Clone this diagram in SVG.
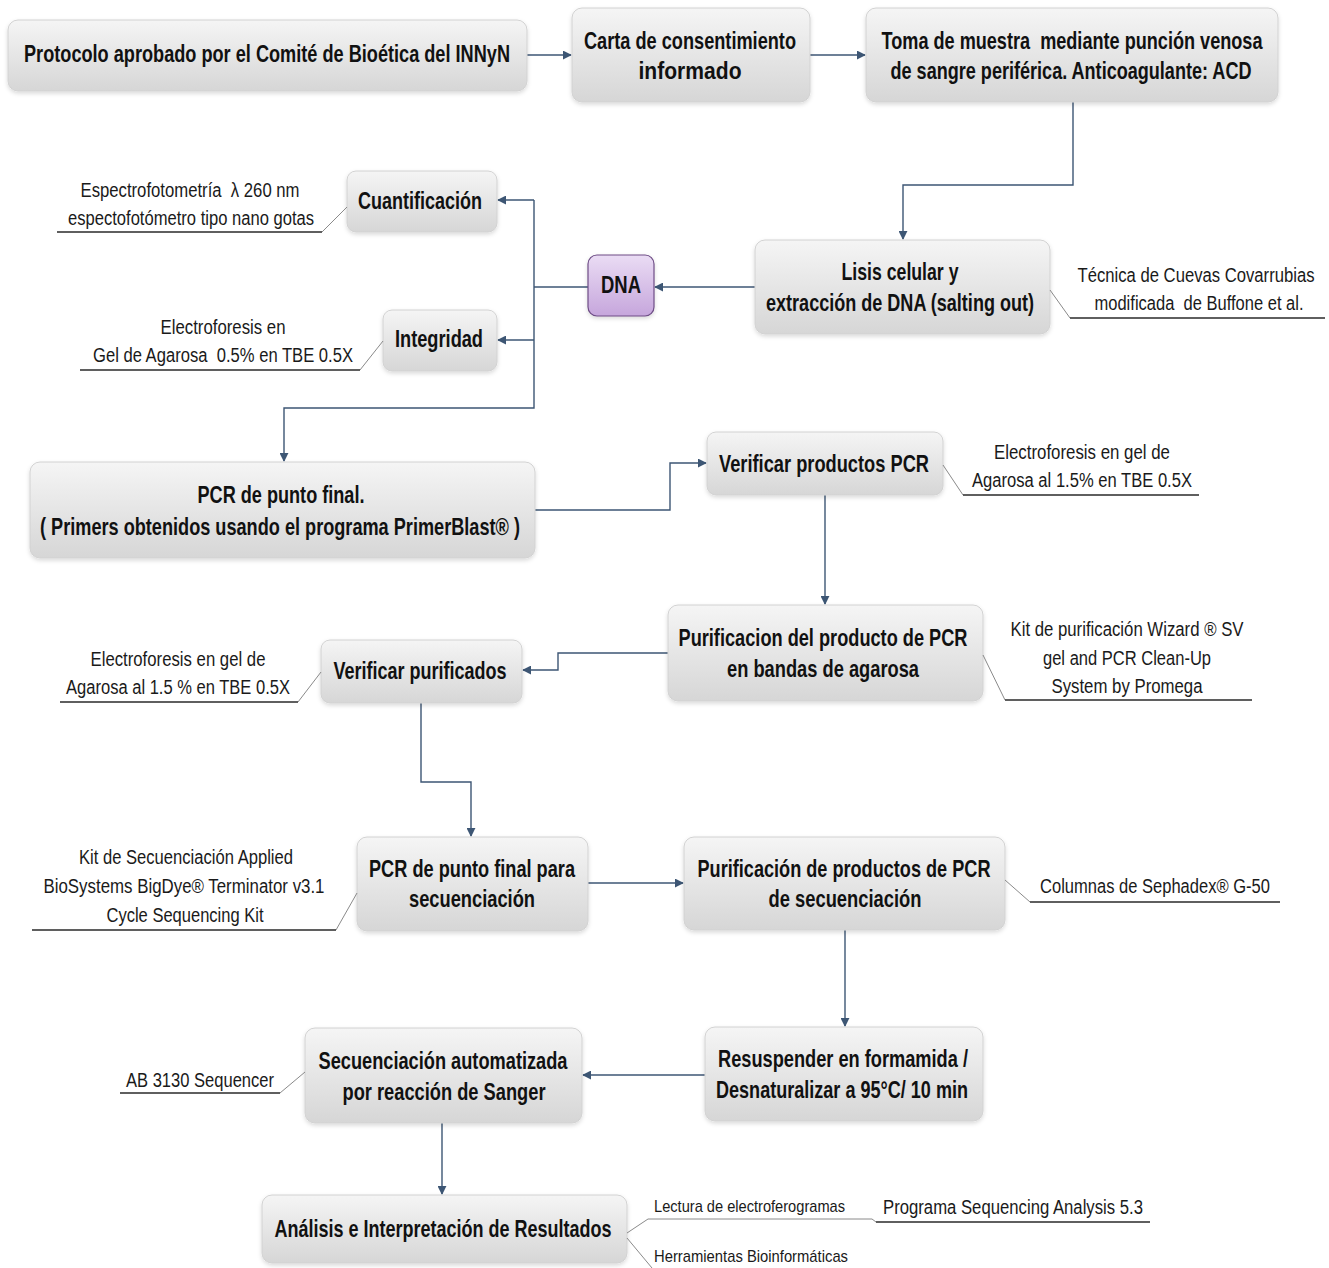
<svg xmlns="http://www.w3.org/2000/svg" width="1329" height="1268" viewBox="0 0 1329 1268">
<style>
.box{fill:url(#g);stroke:#d2d2d2;stroke-width:1;filter:url(#sh)}
.dna{fill:url(#gp);stroke:#6e4d86;stroke-width:1.2;filter:url(#sh)}
.t{font-family:"Liberation Sans",Arial,sans-serif;font-weight:bold;font-size:24px;fill:#111;text-anchor:middle}
.a{font-family:"Liberation Sans",Arial,sans-serif;font-size:20px;fill:#1a1a1a;text-anchor:middle}
.s{font-family:"Liberation Sans",Arial,sans-serif;font-size:17px;fill:#1a1a1a}
.c{fill:none;stroke:#3d5674;stroke-width:1.4}
.u{fill:none;stroke:#2a2a2a;stroke-width:1.3}
.d{fill:none;stroke:#8a8a8a;stroke-width:1}
</style>
<defs>
<linearGradient id="g" x1="0" y1="0" x2="0" y2="1"><stop offset="0" stop-color="#f5f5f5"/><stop offset="1" stop-color="#d6d6d6"/></linearGradient>
<linearGradient id="gp" x1="0" y1="0" x2="0" y2="1"><stop offset="0" stop-color="#eadcf4"/><stop offset="1" stop-color="#c6a6dc"/></linearGradient>
<filter id="sh" x="-10%" y="-10%" width="120%" height="130%"><feDropShadow dx="0" dy="2" stdDeviation="2" flood-color="#000" flood-opacity="0.15"/></filter>
<marker id="ar" viewBox="0 0 10 10" refX="9" refY="5" markerWidth="9" markerHeight="9" markerUnits="userSpaceOnUse" orient="auto"><path d="M0,0 L10,5 L0,10 Z" fill="#3d5674"/></marker>
</defs>
<rect width="1329" height="1268" fill="#fff"/>
<g id="connectors">
<path class="c" d="M527,55 H571" marker-end="url(#ar)"/>
<path class="c" d="M810,55 H865" marker-end="url(#ar)"/>
<path class="c" d="M1073,102 V185 H903 V239" marker-end="url(#ar)"/>
<path class="c" d="M755,287 H655" marker-end="url(#ar)"/>
<path class="c" d="M588,287 H534"/>
<path class="c" d="M534,200 V408 H284 V461" marker-end="url(#ar)"/>
<path class="c" d="M534,200 H498" marker-end="url(#ar)"/>
<path class="c" d="M534,340 H498" marker-end="url(#ar)"/>
<path class="c" d="M535,510 H670 V463 H706" marker-end="url(#ar)"/>
<path class="c" d="M825,495 V604" marker-end="url(#ar)"/>
<path class="c" d="M668,653 H558 V670 H523" marker-end="url(#ar)"/>
<path class="c" d="M421,703 V782 H471 V836" marker-end="url(#ar)"/>
<path class="c" d="M588,883 H683" marker-end="url(#ar)"/>
<path class="c" d="M845,930 V1026" marker-end="url(#ar)"/>
<path class="c" d="M705,1075 H583" marker-end="url(#ar)"/>
<path class="c" d="M442,1123 V1194" marker-end="url(#ar)"/>
</g>
<g id="n-protocolo"><rect class="box" x="8" y="20" width="519" height="71" rx="10"/><text class="t" x="267" y="62" textLength="486" lengthAdjust="spacingAndGlyphs">Protocolo aprobado por el Comité de Bioética del INNyN</text></g>
<g id="n-carta"><rect class="box" x="572" y="8" width="238" height="94" rx="10"/><text class="t" x="690" y="49" textLength="212" lengthAdjust="spacingAndGlyphs">Carta de consentimiento</text><text class="t" x="690" y="79" textLength="103" lengthAdjust="spacingAndGlyphs">informado</text></g>
<g id="n-toma"><rect class="box" x="866" y="8" width="412" height="94" rx="10"/><text class="t" x="1072" y="49" textLength="381" lengthAdjust="spacingAndGlyphs" xml:space="preserve">Toma de muestra  mediante punción venosa</text><text class="t" x="1071" y="79" textLength="361" lengthAdjust="spacingAndGlyphs">de sangre periférica. Anticoagulante: ACD</text></g>
<g id="n-cuant"><rect class="box" x="347" y="171" width="150" height="61" rx="9"/><text class="t" x="420" y="209" textLength="124" lengthAdjust="spacingAndGlyphs">Cuantificación</text></g>
<g id="n-dna"><rect class="dna" x="588" y="255" width="66" height="61" rx="9"/><text class="t" x="621" y="293" textLength="40" lengthAdjust="spacingAndGlyphs">DNA</text></g>
<g id="n-lisis"><rect class="box" x="755" y="240" width="295" height="94" rx="10"/><text class="t" x="900" y="280" textLength="117" lengthAdjust="spacingAndGlyphs">Lisis celular y</text><text class="t" x="900" y="311" textLength="268" lengthAdjust="spacingAndGlyphs">extracción de DNA (salting out)</text></g>
<g id="n-integ"><rect class="box" x="383" y="310" width="114" height="61" rx="9"/><text class="t" x="439" y="347" textLength="88" lengthAdjust="spacingAndGlyphs">Integridad</text></g>
<g id="n-pcr"><rect class="box" x="30" y="462" width="505" height="96" rx="10"/><text class="t" x="281" y="503" textLength="167" lengthAdjust="spacingAndGlyphs">PCR de punto final.</text><text class="t" x="280" y="535" textLength="480" lengthAdjust="spacingAndGlyphs">( Primers obtenidos usando el programa PrimerBlast® )</text></g>
<g id="n-verpcr"><rect class="box" x="707" y="432" width="236" height="63" rx="9"/><text class="t" x="824" y="472" textLength="210" lengthAdjust="spacingAndGlyphs">Verificar productos PCR</text></g>
<g id="n-purif"><rect class="box" x="668" y="605" width="315" height="96" rx="10"/><text class="t" x="823" y="646" textLength="289" lengthAdjust="spacingAndGlyphs">Purificacion del producto de PCR</text><text class="t" x="823" y="677" textLength="192" lengthAdjust="spacingAndGlyphs">en bandas de agarosa</text></g>
<g id="n-verpur"><rect class="box" x="321" y="640" width="201" height="63" rx="9"/><text class="t" x="420" y="679" textLength="173" lengthAdjust="spacingAndGlyphs">Verificar purificados</text></g>
<g id="n-pcrseq"><rect class="box" x="357" y="837" width="231" height="94" rx="10"/><text class="t" x="472" y="877" textLength="206" lengthAdjust="spacingAndGlyphs">PCR de punto final para</text><text class="t" x="472" y="907" textLength="126" lengthAdjust="spacingAndGlyphs">secuenciación</text></g>
<g id="n-purseq"><rect class="box" x="684" y="837" width="321" height="93" rx="10"/><text class="t" x="844" y="877" textLength="293" lengthAdjust="spacingAndGlyphs">Purificación de productos de PCR</text><text class="t" x="845" y="907" textLength="153" lengthAdjust="spacingAndGlyphs">de secuenciación</text></g>
<g id="n-resus"><rect class="box" x="705" y="1027" width="278" height="94" rx="10"/><text class="t" x="843" y="1067" textLength="250" lengthAdjust="spacingAndGlyphs">Resuspender en formamida /</text><text class="t" x="842" y="1098" textLength="252" lengthAdjust="spacingAndGlyphs">Desnaturalizar a 95°C/ 10 min</text></g>
<g id="n-secuen"><rect class="box" x="305" y="1028" width="277" height="95" rx="10"/><text class="t" x="443" y="1069" textLength="249" lengthAdjust="spacingAndGlyphs">Secuenciación automatizada</text><text class="t" x="444" y="1100" textLength="203" lengthAdjust="spacingAndGlyphs">por reacción de Sanger</text></g>
<g id="n-analisis"><rect class="box" x="262" y="1195" width="365" height="68" rx="10"/><text class="t" x="443" y="1237" textLength="337" lengthAdjust="spacingAndGlyphs">Análisis e Interpretación de Resultados</text></g>
<g id="annotations">
<path class="d" d="M322,232 L347,207"/><path class="u" d="M57,232 H322"/>
<text class="a" x="190" y="197" textLength="219" lengthAdjust="spacingAndGlyphs" xml:space="preserve">Espectrofotometría  λ 260 nm</text>
<text class="a" x="191" y="225" textLength="246" lengthAdjust="spacingAndGlyphs">espectofotómetro tipo nano gotas</text>
<path class="d" d="M360,370 L383,341"/><path class="u" d="M80,370 H360"/>
<text class="a" x="223" y="334" textLength="125" lengthAdjust="spacingAndGlyphs">Electroforesis en</text>
<text class="a" x="223" y="362" textLength="260" lengthAdjust="spacingAndGlyphs" xml:space="preserve">Gel de Agarosa  0.5% en TBE 0.5X</text>
<path class="d" d="M1050,290 L1070,318"/><path class="u" d="M1070,318 H1325"/>
<text class="a" x="1196" y="282" textLength="237" lengthAdjust="spacingAndGlyphs">Técnica de Cuevas Covarrubias</text>
<text class="a" x="1199" y="310" textLength="209" lengthAdjust="spacingAndGlyphs" xml:space="preserve">modificada  de Buffone et al.</text>
<path class="d" d="M943,465 L963,495"/><path class="u" d="M963,495 H1199"/>
<text class="a" x="1082" y="459" textLength="176" lengthAdjust="spacingAndGlyphs">Electroforesis en gel de</text>
<text class="a" x="1082" y="487" textLength="220" lengthAdjust="spacingAndGlyphs">Agarosa al 1.5% en TBE 0.5X</text>
<path class="d" d="M983,655 L1005,700"/><path class="u" d="M1005,700 H1252"/>
<text class="a" x="1127" y="636" textLength="233" lengthAdjust="spacingAndGlyphs">Kit de purificación Wizard ® SV</text>
<text class="a" x="1127" y="665" textLength="168" lengthAdjust="spacingAndGlyphs">gel and PCR Clean-Up</text>
<text class="a" x="1127" y="693" textLength="151" lengthAdjust="spacingAndGlyphs">System by Promega</text>
<path class="d" d="M298,702 L321,672"/><path class="u" d="M60,702 H298"/>
<text class="a" x="178" y="666" textLength="175" lengthAdjust="spacingAndGlyphs">Electroforesis en gel de</text>
<text class="a" x="178" y="694" textLength="224" lengthAdjust="spacingAndGlyphs">Agarosa al 1.5 % en TBE 0.5X</text>
<path class="d" d="M336,930 L357,893"/><path class="u" d="M32,930 H336"/>
<text class="a" x="186" y="864" textLength="214" lengthAdjust="spacingAndGlyphs">Kit de Secuenciación Applied</text>
<text class="a" x="184" y="893" textLength="281" lengthAdjust="spacingAndGlyphs">BioSystems BigDye® Terminator v3.1</text>
<text class="a" x="185" y="922" textLength="157" lengthAdjust="spacingAndGlyphs">Cycle Sequencing Kit</text>
<path class="d" d="M1005,880 L1030,902"/><path class="u" d="M1030,902 H1280"/>
<text class="a" x="1155" y="893" textLength="230" lengthAdjust="spacingAndGlyphs">Columnas de Sephadex® G-50</text>
<path class="d" d="M280,1093 L305,1072"/><path class="u" d="M120,1093 H280"/>
<text class="a" x="200" y="1087" textLength="148" lengthAdjust="spacingAndGlyphs">AB 3130 Sequencer</text>
<path class="d" d="M627,1233 L648,1219 H872 L876,1222"/>
<path class="u" d="M876,1222 H1150"/>
<path class="d" d="M627,1238 L652,1268"/>
<text class="s" x="654" y="1212" textLength="191" lengthAdjust="spacingAndGlyphs">Lectura de electroferogramas</text>
<text class="a" x="1013" y="1214" textLength="260" lengthAdjust="spacingAndGlyphs">Programa Sequencing Analysis 5.3</text>
<text class="s" x="654" y="1262" textLength="194" lengthAdjust="spacingAndGlyphs">Herramientas Bioinformáticas</text>
</g>
</svg>
